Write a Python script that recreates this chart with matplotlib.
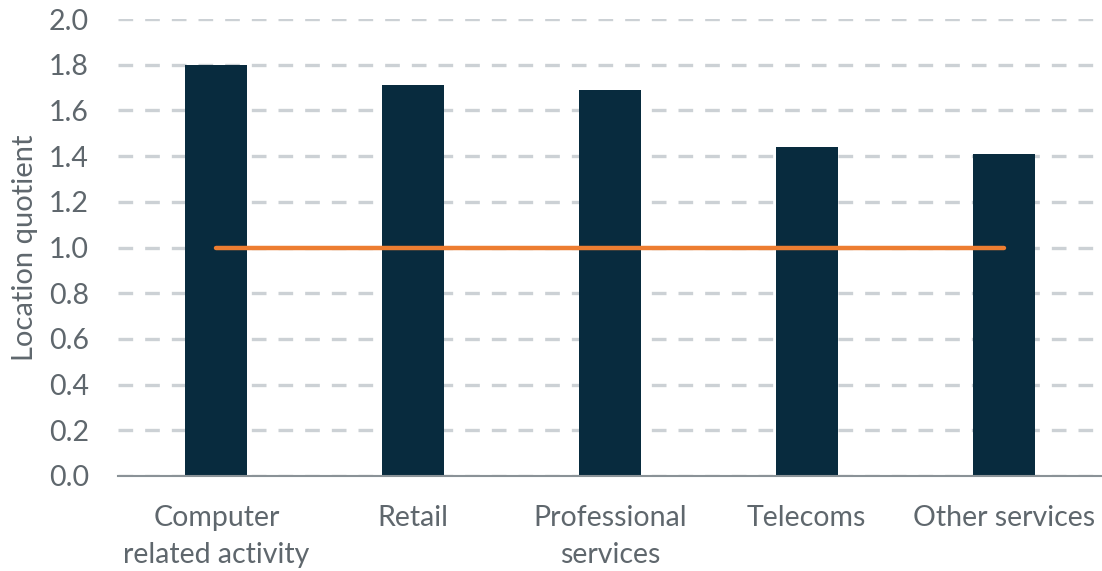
import matplotlib.pyplot as plt
import numpy as np

# Data
categories = ['Computer\nrelated activity', 'Retail', 'Professional\nservices', 'Telecoms', 'Other services']
quotients = [1.80, 1.71, 1.69, 1.44, 1.41]
baseline = [1.0, 1.0, 1.0, 1.0, 1.0]
yticks = [0.0, 0.2, 0.4, 0.6, 0.8, 1.0, 1.2, 1.4, 1.6, 1.8, 2.0]

text_col = '#5f676d'
plt.rcParams['font.family'] = ['Lato', 'DejaVu Sans']

fig = plt.figure(figsize=(11.02, 5.71), dpi=100)
ax = fig.add_axes([118 / 1102, (571 - 476) / 571, 1 - 118 / 1102, 457 / 571])

x = np.arange(len(categories))
ax.bar(x, quotients, width=0.315, color='#082b3e', zorder=3)
ax.plot(x, baseline, color='#ed7d31', linewidth=3.2, solid_capstyle='round', zorder=4)

ax.set_xlim(-0.5, len(categories) - 0.5)
ax.set_ylim(0, 2.0)
ax.set_yticks(yticks)
ax.set_yticklabels([f'{v:.1f}' for v in yticks])
ax.set_xticks(x)
ax.set_xticklabels(categories, linespacing=1.5)

ax.grid(axis='y', color='#ccd1d5', linewidth=2.4, linestyle=(0, (4.4, 3.6)), zorder=0)
ax.set_axisbelow(True)

for s in ['top', 'right', 'left']:
    ax.spines[s].set_visible(False)
ax.spines['bottom'].set_color('#8a9297')
ax.spines['bottom'].set_linewidth(1.5)
ax.spines['bottom'].set_zorder(5)

ax.tick_params(axis='both', length=0, labelsize=20.5, colors=text_col)
ax.tick_params(axis='x', pad=21)
ax.tick_params(axis='y', pad=21)
ax.set_ylabel('Location quotient', fontsize=21, color=text_col, labelpad=8)

plt.savefig('out.png', dpi=100)
